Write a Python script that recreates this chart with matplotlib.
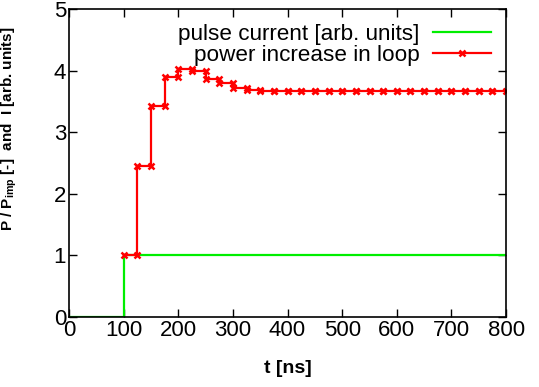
import numpy as np
import matplotlib
matplotlib.use("Agg")
import matplotlib.pyplot as plt

plt.rcParams['font.family'] = ['Liberation Sans', 'DejaVu Sans']
plt.rcParams['mathtext.fontset'] = 'custom'
plt.rcParams['mathtext.bf'] = 'Liberation Sans:bold'

# pulse current: off until 100 ns, then on
pulse_t = [0, 100, 100, 800]
pulse_i = [0, 0, 1, 1]

# loop power: one level per 25 ns step, from 100 ns to 800 ns
step_t = list(range(100, 801, 25))
step_p = [1.00, 2.45, 3.43, 3.89, 4.02, 3.99, 3.87, 3.79, 3.72, 3.69,
          3.675] + [3.67] * 17

xticks = [0, 100, 200, 300, 400, 500, 600, 700, 800]
yticks = [0, 1, 2, 3, 4, 5]

# each level is held from its start time to the next one
px = np.repeat(step_t, 2)[1:-1]
py = np.repeat(step_p, 2)

fig = plt.figure(figsize=(5.39, 3.87), dpi=100)
ax = fig.add_axes([0.128, 0.181, 0.811, 0.796])

ax.plot(pulse_t, pulse_i, color='#00ee00', lw=1.6, label='pulse current [arb. units]')
ax.plot(px, py, color='#ff0000', lw=1.6, marker='x', ms=5, mew=1.8,
        label='power increase in loop')

ax.set_xlim(0, 800)
ax.set_ylim(0, 5)
ax.set_xticks(xticks)
ax.set_yticks(yticks)
ax.tick_params(direction='in', length=6, width=1, top=True, right=True,
               labelsize=16, pad=2)
for s in ax.spines.values():
    s.set_linewidth(1.2)

ax.set_xlabel('t [ns]', fontsize=14, fontweight='bold', labelpad=14)
ax.set_ylabel(r'P / P$_{\mathbf{imp}}$ [-]  and  I [arb. units]', fontsize=11,
              fontweight='bold')
ax.yaxis.set_label_coords(-0.115, 0.61)

leg = ax.legend(loc='upper right', frameon=False, markerfirst=False, fontsize=16.2,
                handlelength=2.6, handletextpad=0.6, labelspacing=0.0,
                borderaxespad=0.25, numpoints=1)
# right-align the labels like gnuplot
leg._legend_box._children[-1]._children[0].align = 'right'

fig.savefig('out.png', dpi=100)
